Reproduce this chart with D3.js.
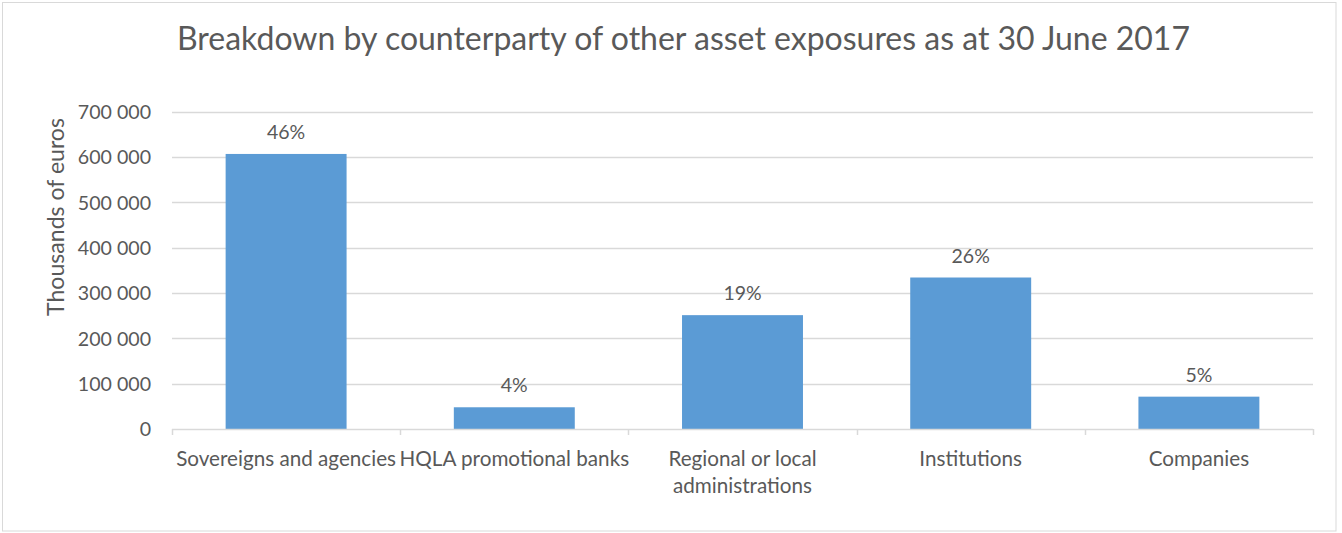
<!DOCTYPE html>
<html>
<head>
<meta charset="utf-8">
<script src="https://cdn.jsdelivr.net/npm/d3@7/dist/d3.min.js"></script>
<style>
  html, body { margin: 0; padding: 0; background: #fff; }
  svg { display: block; }
  text { font-family: Lato, "Open Sans", sans-serif; fill: #595959; }
</style>
</head>
<body>
<svg id="chart" width="1342" height="533"></svg>
<script>
const titleText = "Breakdown by counterparty of other asset exposures as at 30 June 2017";
const yAxisTitle = "Thousands of euros";
const categories = [
  ["Sovereigns and agencies"],
  ["HQLA promotional banks"],
  ["Regional or local", "administrations"],
  ["Institutions"],
  ["Companies"]
];
const values = [606400, 47900, 251000, 334000, 71300];
const pctLabels = ["46%", "4%", "19%", "26%", "5%"];
const yTicks = [0, 100000, 200000, 300000, 400000, 500000, 600000, 700000];

const svg = d3.select("#chart");

function fit(sel, target) {
  const n = sel.node();
  const fs = parseFloat(sel.attr("font-size"));
  const w = n.getComputedTextLength();
  const nf = fs * target / w;
  sel.attr("font-size", nf.toFixed(2));
  return nf;
}

// border
svg.append("rect").attr("x", 2.5).attr("y", 2.5).attr("width", 1333.5).attr("height", 528.5)
  .attr("fill", "#fff").attr("stroke", "#d9d9d9").attr("stroke-width", 1);

const ids = categories.map((c, i) => i);
const x = d3.scaleBand().domain(ids).range([172, 1313]).paddingInner(0.47).paddingOuter(0.235);
const xb = d3.scaleBand().domain(ids).range([172, 1313]);
const y = d3.scaleLinear().domain([0, 700000]).range([429, 111.5]);

// gridlines
svg.append("g").selectAll("line").data(yTicks.filter(t => t > 0)).join("line")
  .attr("x1", 172).attr("x2", 1313)
  .attr("y1", d => Math.round(y(d)) + 0.5).attr("y2", d => Math.round(y(d)) + 0.5)
  .attr("stroke", "#d9d9d9").attr("stroke-width", 1.5);

// y axis labels
const fmt = d => d3.format(",")(d).replace(/,/g, " ");
const yAxis = d3.axisLeft(y).tickValues(yTicks).tickFormat(fmt).tickSize(0).tickPadding(0);
const yg = svg.append("g").attr("transform", "translate(151,0)").call(yAxis);
yg.select(".domain").remove();
yg.selectAll("text").attr("font-size", 19.6).attr("fill", "#595959")
  .style("font-family", "Lato, sans-serif").attr("dy", "0.35em");

// bars
svg.append("g").selectAll("rect").data(values).join("rect")
  .attr("x", (d, i) => x(i)).attr("width", x.bandwidth())
  .attr("y", d => y(d)).attr("height", d => y(0) - y(d))
  .attr("fill", "#5b9bd5");

// x axis
svg.append("line").attr("x1", 172).attr("x2", 1313).attr("y1", 429.5).attr("y2", 429.5)
  .attr("stroke", "#d9d9d9").attr("stroke-width", 1.5);
const bounds = ids.map(i => xb(i)).concat([1313]);
svg.append("g").selectAll("line").data(bounds).join("line")
  .attr("x1", d => Math.round(d) + 0.5).attr("x2", d => Math.round(d) + 0.5)
  .attr("y1", 429).attr("y2", 435)
  .attr("stroke", "#d9d9d9").attr("stroke-width", 1.5);

// category labels
const catG = svg.append("g");
const catTexts = [];
categories.forEach((lines, i) => {
  const t = catG.append("text").attr("text-anchor", "middle")
    .attr("x", xb(i) + xb.bandwidth() / 2).attr("y", 466).attr("font-size", 19.5);
  lines.forEach((l, j) => t.append("tspan").attr("x", xb(i) + xb.bandwidth() / 2)
    .attr("dy", j === 0 ? 0 : 27).text(l));
  catTexts.push(t);
});
const catFs = fit(catTexts[0], 220);
catTexts.forEach(t => t.attr("font-size", catFs.toFixed(2)));

// data labels
svg.append("g").selectAll("text").data(values).join("text")
  .attr("text-anchor", "middle")
  .attr("x", (d, i) => x(i) + x.bandwidth() / 2)
  .attr("y", d => y(d) - 15)
  .attr("font-size", 19.5)
  .text((d, i) => pctLabels[i]);

// y axis title
const yt = svg.append("text").attr("transform", "translate(64,217) rotate(-90)")
  .attr("text-anchor", "middle").attr("font-size", 20.5).text(yAxisTitle);
fit(yt, 198);

// title
const tt = svg.append("text").attr("x", 683).attr("y", 50).attr("text-anchor", "middle")
  .attr("font-size", 28).text(titleText);
fit(tt, 1013);
tt.attr("x", 177 + 1013 / 2);
</script>
</body>
</html>
